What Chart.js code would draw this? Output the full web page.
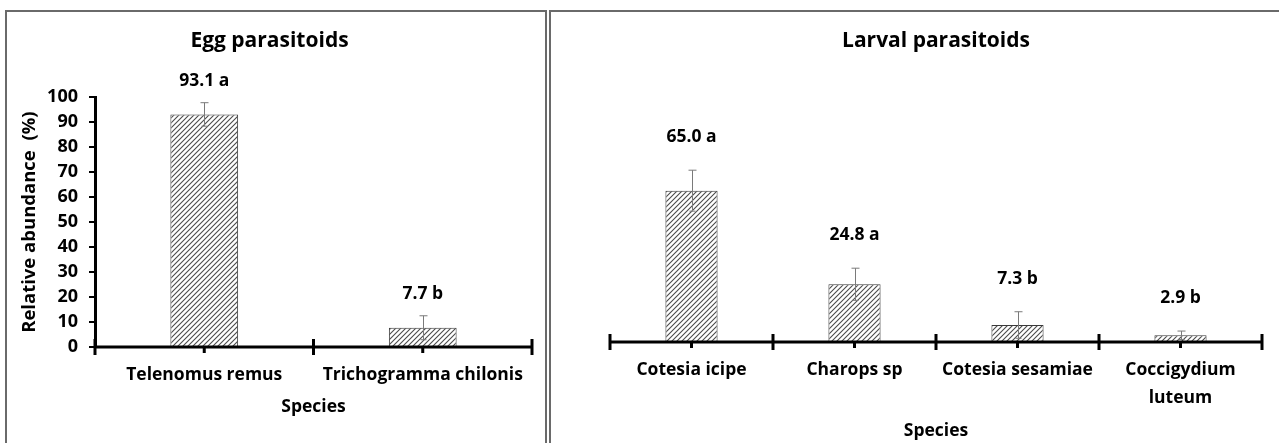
<!DOCTYPE html>
<html>
<head>
<meta charset="utf-8">
<script src="https://cdn.jsdelivr.net/npm/chart.js@4.4.1/dist/chart.umd.min.js"></script>
<style>
  body{margin:0;background:#fff;width:1279px;height:443px;overflow:hidden;position:relative;}
  .box{position:absolute;border-color:#6a6a6a;border-style:solid;box-sizing:border-box;}
  #boxL{left:5px;top:10px;width:542px;height:440px;border-width:2px 2px 0 2px;}
  #boxR{left:549px;top:10px;width:740px;height:440px;border-width:2px 0 0 2px;}
  canvas{position:absolute;}
  #eggChart{left:7px;top:12px;}
  #larvalChart{left:551px;top:12px;}
</style>
</head>
<body>
<div class="box" id="boxL"></div>
<div class="box" id="boxR"></div>
<canvas id="eggChart" width="538" height="431"></canvas>
<canvas id="larvalChart" width="728" height="431"></canvas>
<script>
// egg parasitoids
const eggSpecies = ['Telenomus remus', 'Trichogramma chilonis'];
const eggValues = [93.1, 7.7];
const eggErrors = [4.7, 4.8];
const eggLetters = ['a', 'b'];

// larval parasitoids
const larvalSpecies = ['Cotesia icipe', 'Charops sp', 'Cotesia sesamiae', ['Coccigydium', 'luteum']];
const larvalValues = [65.0, 24.8, 7.3, 2.9];
const larvalErrors = [8.8, 6.9, 5.7, 1.8];
const larvalLetters = ['a', 'a', 'b', 'b'];

const yTicks = [0, 10, 20, 30, 40, 50, 60, 70, 80, 90, 100];

const FONT = '"Open Sans", Lato, sans-serif';
Chart.defaults.font.family = FONT;
Chart.defaults.color = '#000';

function hatch(){
    const c = document.createElement('canvas');
    c.width = c.height = 5;
    const g = c.getContext('2d');
    g.fillStyle = '#fff';
    g.fillRect(0,0,5,5);
    g.strokeStyle = '#4a4a4a';
    g.lineWidth = 1.1;
    g.beginPath();
    g.moveTo(0,5); g.lineTo(5,0);
    g.moveTo(-1,1); g.lineTo(1,-1);
    g.moveTo(4,6); g.lineTo(6,4);
    g.stroke();
    return g.createPattern(c,'repeat');
}

// axis line, ticks, error bars and value labels
const extras = {
    id:'extras',
    afterDraw(chart, args, opts){
        const ctx = chart.ctx;
        const xs = chart.scales.x, ys = chart.scales.y;
        const area = chart.chartArea;
        const y0 = ys.getPixelForValue(0);
        const n = chart.data.labels.length;
        ctx.save();
        ctx.strokeStyle = '#000';
        ctx.lineWidth = 3;
        ctx.beginPath();
        ctx.moveTo(area.left, y0); ctx.lineTo(area.right, y0);
        for(let i=0;i<=n;i++){
            const x = xs.getPixelForValue(i-0.5);
            ctx.moveTo(x, y0-8); ctx.lineTo(x, y0+8);
        }
        for(let i=0;i<n;i++){
            const x = xs.getPixelForValue(i);
            ctx.moveTo(x, y0); ctx.lineTo(x, y0+6);
        }
        ctx.stroke();

        const vals = chart.data.datasets[0].data;
        const meta = chart.getDatasetMeta(0);
        ctx.strokeStyle = '#7a7a7a';
        ctx.lineWidth = 1;
        ctx.font = 'bold 17.5px ' + FONT;
        ctx.fillStyle = '#000';
        ctx.textAlign = 'center';
        ctx.textBaseline = 'middle';
        meta.data.forEach((bar, i) => {
            const x = Math.round(bar.x) + 0.5;
            const top = ys.getPixelForValue(vals[i] + opts.errors[i]);
            const bot = ys.getPixelForValue(vals[i] - opts.errors[i]);
            ctx.beginPath();
            ctx.moveTo(x, top); ctx.lineTo(x, bot);
            ctx.moveTo(x-4, top); ctx.lineTo(x+4, top);
            ctx.moveTo(x-3, bot); ctx.lineTo(x+3, bot);
            ctx.stroke();
            ctx.fillText(vals[i].toFixed(1) + ' ' + opts.letters[i], bar.x, top - opts.offset);
        });
        ctx.restore();
    }
};

function makeChart(id, title, labels, values, errors, letters, cfg){
    const ctx = document.getElementById(id).getContext('2d');
    return new Chart(ctx,{
        type:'bar',
        data:{
            labels: labels,
            datasets:[{
                data: values,
                backgroundColor: hatch(),
                borderColor:'#3a3a3a',
                borderWidth:1,
                categoryPercentage:1,
                barPercentage: cfg.barPct
            }]
        },
        options:{
            responsive:false,
            animation:false,
            layout:{padding:{left:cfg.padLeft, right:cfg.padRight, top:0, bottom:0}},
            plugins:{
                legend:{display:false},
                tooltip:{enabled:false},
                title:{
                    display:true,
                    text:title,
                    font:{size:21, weight:'bold'},
                    color:'#000',
                    padding:{top:16, bottom:cfg.titleGap}
                },
                extras:{errors:errors, letters:letters, offset:cfg.labelOffset}
            },
            scales:{
                x:{
                    offset:true,
                    grid:{display:false, drawTicks:false},
                    border:{display:false},
                    ticks:{padding:14, font:{size:17.5, weight:'bold', lineHeight:1.6}, maxRotation:0, autoSkip:false},
                    title:{display:true, text:'Species', font:{size:17.5, weight:'bold'}, padding:{top:0, bottom:cfg.speciesPad}},
                    afterFit: s => { s.height = cfg.xHeight; }
                },
                y:{
                    display: cfg.showY,
                    min:0, max:100,
                    afterBuildTicks: s => { s.ticks = yTicks.map(v => ({value:v})); },
                    grid:{drawOnChartArea:false, drawTicks:true, tickLength:6, color:'#000', lineWidth:2},
                    border:{display:true, color:'#000', width:3},
                    ticks:{padding:11, font:{size:18, weight:'bold'}},
                    title:{display:true, text:'Relative abundance  (%)', font:{size:18.5, weight:'bold'}, padding:{top:12, bottom:0}},
                    afterFit: s => { if (cfg.showY) s.width = 88; }
                }
            }
        },
        plugins:[extras]
    });
}

makeChart('eggChart', 'Egg parasitoids', eggSpecies, eggValues, eggErrors, eggLetters,
    {barPct:0.31, padLeft:0, padRight:13, titleGap:44, xHeight:96, speciesPad:25, showY:true, labelOffset:22});
makeChart('larvalChart', 'Larval parasitoids', larvalSpecies, larvalValues, larvalErrors, larvalLetters,
    {barPct:0.32, padLeft:59, padRight:17, titleGap:56, xHeight:101, speciesPad:1, showY:false, labelOffset:33});
</script>
</body>
</html>
